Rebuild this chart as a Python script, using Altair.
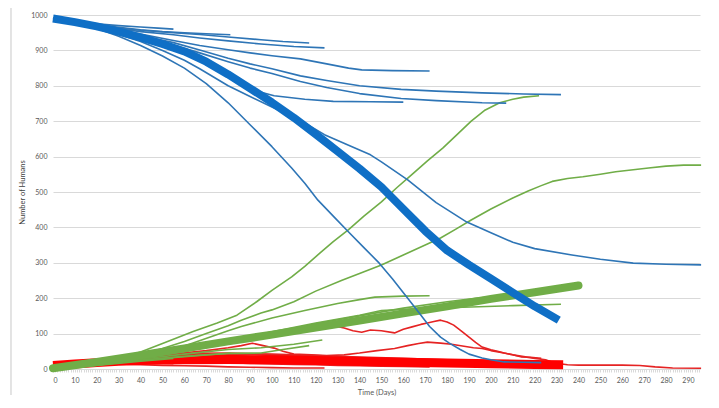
import altair as alt
import pandas as pd

# ---------------- data (day, number of humans) ----------------
# Susceptible (blue)
B_MEAN = [(0,990),(10,980),(20,968),(30,953),(40,937),(50,918),(60,897),(70,868),(80,832),(90,793),(100,753),(110,710),(120,663),(130,615),(140,566),(150,514),(160,452),(170,390),(180,335),(190,294),(200,255),(210,216),(220,177),(231,138)]
B1 = [(0,990),(10,982),(20,975),(30,970),(40,966),(48,963),(55,960)]
B2 = [(0,990),(10,982),(20,973),(30,965),(40,958),(50,953),(60,950),(70,947),(81,944)]
B3 = [(0,990),(10,981),(20,972),(30,963),(40,957),(55,950),(67,945),(80,938),(95,930),(105,925),(117,921)]
B4 = [(0,990),(10,981),(20,971),(30,961),(40,953),(55,944),(67,935),(80,927),(95,918),(110,911),(124,907)]
B5 = [(0,990),(10,980),(20,969),(30,958),(40,946),(55,928),(67,914),(80,902),(90,893),(100,885),(113,876),(125,862),(135,850),(141,845),(155,843),(172,842)]
B6 = [(0,990),(10,980),(20,968),(30,955),(40,942),(55,922),(67,901),(80,878),(90,862),(100,848),(113,828),(125,815),(140,800),(159,790),(175,785),(196,780),(215,777),(232,775)]
B7 = [(0,990),(10,980),(20,967),(30,953),(40,938),(55,915),(67,893),(80,868),(90,850),(100,835),(113,812),(125,795),(140,778),(159,764),(175,758),(196,752),(207,751)]
B8 = [(0,990),(10,979),(20,966),(30,951),(40,935),(55,905),(67,870),(77,835),(85,805),(93,785),(101,772),(115,762),(128,756),(145,755),(160,754)]
B_LONG = [(0,990),(10,978),(20,963),(30,945),(40,925),(50,900),(60,872),(67,848),(80,800),(90,770),(104,728),(115,695),(124,662),(135,632),(145,605),(150,585),(162,534),(175,470),(189,415),(200,385),(210,358),(220,340),(237,322),(250,310),(265,299),(280,296),(296,294)]
B_STEEP = [(0,990),(10,978),(20,962),(30,940),(40,914),(50,884),(60,850),(70,806),(80,752),(90,690),(100,628),(109,568),(115,525),(121,477),(128,432),(135,387),(142,343),(149,299),(155,255),(162,200),(167,160),(172,120),(177,90),(181,73),(186,55),(190,42),(196,31),(200,26),(206,20),(215,19),(223,18)]

# Recovered (green)
G_MEAN = [(0,2),(20,20),(40,39),(60,58),(80,78),(100,97),(120,117),(140,137),(160,157),(180,177),(200,198),(220,217),(240,236)]
G_BIG1 = [(0,0),(10,7),(20,16),(30,30),(40,48),(50,72),(64,106),(75,130),(84,152),(93,190),(100,222),(109,260),(115,290),(122,328),(128,360),(135,394),(142,432),(150,472),(157,512),(164,550),(171,588),(178,624),(185,665),(191,700),(197,730),(204,752),(210,762),(215,768),(222,772)]
G_BIG2 = [(0,0),(10,6),(20,14),(30,26),(40,40),(50,58),(60,78),(70,100),(80,122),(86,138),(95,158),(100,167),(110,190),(120,220),(132,251),(140,270),(150,294),(160,322),(170,350),(177,370),(184,395),(191,421),(200,452),(210,483),(217,503),(223,518),(228,530),(235,538),(242,543),(250,550),(257,557),(265,563),(272,568),(280,573),(288,576),(296,576)]
G3 = [(0,0),(20,14),(40,33),(60,65),(80,108),(86,120),(100,144),(115,165),(130,185),(140,196),(147,203),(160,206),(172,207)]
G4 = [(0,0),(20,13),(40,30),(60,50),(80,75),(100,100),(120,128),(140,150),(160,172),(180,190),(193,200),(205,206)]
G5 = [(0,0),(20,14),(40,32),(60,55),(80,80),(100,105),(120,130),(140,152),(150,165),(165,170),(180,173),(191,175),(210,179),(232,183)]
G6 = [(0,0),(20,12),(40,28),(60,42),(80,55),(95,60),(110,70),(123,82)]
G7 = [(0,0),(20,11),(40,25),(60,36),(80,44),(95,45),(105,55),(117,66)]
G8 = [(0,0),(20,10),(40,22),(55,30)]
G9 = [(0,0),(20,12),(40,25),(60,35),(81,45)]

# Infected (red)
R_MEAN = [(0,10),(10,14),(20,18),(30,22),(40,24),(60,26),(80,27),(100,26),(120,24),(140,21),(160,19),(180,17),(200,15),(220,13),(233,12)]
R1 = [(0,10),(10,14),(20,20),(40,39),(60,58),(80,78),(100,97),(120,116),(128,122),(133,116),(137,108),(141,104),(145,110),(150,108),(156,102),(160,112),(164,119),(168,126),(171,130),(174,134),(177,138),(180,133),(183,124),(187,105),(190,90),(193,75),(196,62),(200,54),(203,50),(206,45),(210,40),(214,34),(218,33),(223,30)]
R2 = [(0,10),(10,15),(20,22),(30,30),(40,38),(50,42),(60,46),(70,52),(80,60),(86,66),(91,73),(96,66),(101,59),(105,50),(110,42),(118,40),(125,38),(133,40),(140,45),(148,52),(156,58),(162,66),(167,72),(171,76),(177,73),(182,70),(187,65),(192,60),(196,58),(200,52),(206,45),(210,40),(215,35),(220,30),(225,26),(229,17),(235,12),(240,11),(252,11),(260,11),(268,10),(275,6),(283,3),(296,2)]
R3 = [(0,10),(10,14),(20,18),(30,20),(40,19),(48,17),(55,15)]
R4 = [(0,10),(10,15),(20,22),(30,28),(40,32),(50,33),(60,30),(70,26),(81,22)]
R5 = [(0,10),(10,16),(20,24),(30,32),(40,38),(50,40),(60,42),(70,40),(80,38),(90,36),(100,33),(110,28),(117,25)]
R6 = [(0,10),(10,13),(20,16),(30,14),(40,12),(50,10),(60,9),(70,8),(80,6),(90,5),(100,4),(110,3),(124,3)]
R7 = [(0,10),(10,16),(20,22),(30,28),(40,34),(50,38),(60,40),(70,42),(80,43),(90,41),(100,38),(110,34),(120,31),(130,28),(140,25),(150,22),(160,20)]
R8 = [(0,10),(10,12),(20,15),(30,18),(40,20),(50,21),(60,22),(70,20),(80,18),(90,16),(100,14),(110,13),(120,12),(130,10),(140,9),(150,8),(160,7),(172,6)]
R9 = [(0,10),(10,14),(20,20),(30,26),(40,30),(50,34),(60,36),(70,38),(80,40),(90,42),(100,40),(110,38),(120,36),(130,34),(140,32),(150,30),(160,28),(170,25),(180,22),(190,18),(200,14),(207,12)]
R10 = [(0,10),(20,18),(40,25),(60,28),(80,30),(100,28),(120,26),(140,22),(160,18),(180,14),(200,10),(220,7),(232,5)]
R11 = [(0,10),(20,25),(40,40),(60,44),(80,45),(100,42),(120,38),(140,34),(160,30),(180,26),(200,20),(215,15)]

X_TICKS = list(range(0, 296))
Y_TICKS = list(range(0, 1001, 100))

SERIES = [
    ("R1", "red_thin", R1), ("R2", "red_thin", R2), ("R3", "red_thin", R3), ("R4", "red_thin", R4),
    ("R5", "red_thin", R5), ("R6", "red_thin", R6), ("R7", "red_thin", R7), ("R8", "red_thin", R8),
    ("R9", "red_thin", R9), ("R10", "red_thin", R10), ("R11", "red_thin", R11),
    ("R_MEAN", "red_thick", R_MEAN),
    ("G_BIG1", "green_thin", G_BIG1), ("G_BIG2", "green_thin", G_BIG2), ("G3", "green_thin", G3),
    ("G4", "green_thin", G4), ("G5", "green_thin", G5), ("G6", "green_thin", G6), ("G7", "green_thin", G7),
    ("G8", "green_thin", G8), ("G9", "green_thin", G9),
    ("G_MEAN", "green_thick", G_MEAN),
    ("B1", "blue_thin", B1), ("B2", "blue_thin", B2), ("B3", "blue_thin", B3), ("B4", "blue_thin", B4),
    ("B5", "blue_thin", B5), ("B6", "blue_thin", B6), ("B7", "blue_thin", B7), ("B8", "blue_thin", B8),
    ("B_LONG", "blue_thin", B_LONG), ("B_STEEP", "blue_thin", B_STEEP),
    ("B_MEAN", "blue_thick", B_MEAN),
]

rows = []
for name, kind, pts in SERIES:
    for d, v in pts:
        rows.append({"run": name, "kind": kind, "day": d, "value": v})
df = pd.DataFrame(rows)

FONT = "Lato"

x_enc = alt.X(
    "day:Q",
    scale=alt.Scale(domain=[0, 295.5], nice=False, zero=False),
    axis=alt.Axis(
        values=X_TICKS,
        labelExpr="datum.value % 10 == 0 ? datum.label : ''",
        labelOverlap=False,
        grid=False,
        domainColor="#D9D9D9",
        tickColor="#D9D9D9",
        tickSize=3,
        labelPadding=4,
        labelFont=FONT, labelFontSize=7, labelColor="#595959",
        title="Time (Days)", titleFont=FONT, titleFontSize=7.5,
        titleFontWeight="normal", titleColor="#595959", titlePadding=5,
    ),
)
y_enc = alt.Y(
    "value:Q",
    scale=alt.Scale(domain=[0, 1000], nice=False),
    axis=alt.Axis(
        values=Y_TICKS,
        format="d",
        grid=True, gridColor="#D9D9D9", gridWidth=1,
        domain=False, ticks=False,
        labelPadding=6,
        labelFont=FONT, labelFontSize=7, labelColor="#595959",
        title="Number of Humans", titleFont=FONT, titleFontSize=7.5,
        titleFontWeight="normal", titleColor="#404040", titlePadding=4,
    ),
)

base = alt.Chart(df)

def layer(kind, color, width, cap):
    return base.transform_filter(alt.datum.kind == kind).mark_line(
        color=color, strokeWidth=width, strokeCap=cap, strokeJoin="round"
    ).encode(x=x_enc, y=y_enc, detail="run:N", order="day:Q")

# light frame lines of the original screenshot (outside the plot area)
frame_left = alt.Chart(df).mark_rule(color="#E3E3E3", strokeWidth=1).encode(
    x=alt.value(-42), y=alt.value(-12), y2=alt.value(380)
)
frame_right = alt.Chart(df).mark_rule(color="#E3E3E3", strokeWidth=1).encode(
    x=alt.value(660), y=alt.value(-12), y2=alt.value(380)
)

chart = alt.layer(
    frame_left,
    frame_right,
    layer("red_thin", "#E52323", 1.6, "butt"),
    layer("red_thick", "#FF0000", 9, "butt"),
    layer("green_thin", "#70AD47", 1.6, "butt"),
    layer("green_thick", "#70AD47", 8, "round"),
    layer("blue_thin", "#2E75B6", 1.6, "butt"),
    layer("blue_thick", "#0F6FC6", 8, "butt"),
).properties(
    width=647, height=354,
    autosize=alt.AutoSizeParams(type="none"),
    padding={"left": 45, "top": 7, "right": 11, "bottom": 30},
    background="white",
).configure_view(stroke=None)

chart.save("out.html", embed_options={"renderer": "svg", "actions": False})
